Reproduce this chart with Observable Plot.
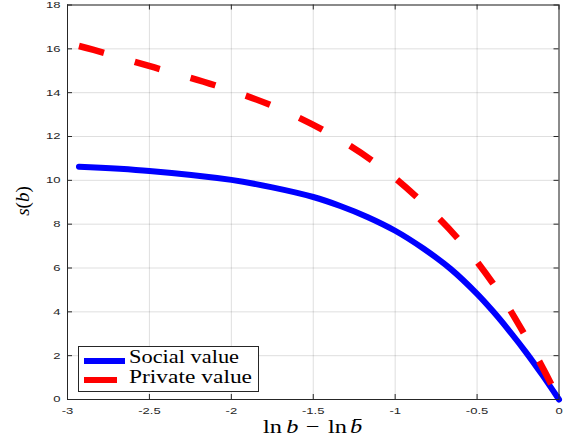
<!DOCTYPE html>
<html><head><meta charset="utf-8">
<script src="https://cdn.jsdelivr.net/npm/d3@7"></script>
<script src="https://cdn.jsdelivr.net/npm/@observablehq/plot@0.6"></script>
<style>
body{margin:0;background:#fff;}
#wrap{position:relative;width:570px;height:441px;overflow:hidden;}
.serif{font-family:"Liberation Serif","Times New Roman",serif;color:#000;line-height:1;white-space:nowrap;position:absolute;}
</style></head><body>
<div id="wrap"></div>
<script>
// ---- data ----
const socialX = [-2.93, -2.5, -2.0, -1.75, -1.5, -1.335, -1.17, -1.0, -0.83, -0.66, -0.5, -0.4, -0.3, -0.2, -0.1, 0];
const socialY = [10.62, 10.43, 10.02, 9.68, 9.24, 8.83, 8.33, 7.70, 6.90, 5.95, 4.82, 4.0, 3.1, 2.14, 1.1, 0];
const privateX = [-2.93, -2.84, -2.47, -2.1, -1.74, -1.41, -1.1, -0.84, -0.6, -0.4, -0.23, -0.08, 0];
const privateY = [16.13, 15.95, 15.15, 14.34, 13.37, 12.17, 10.68, 9.04, 7.20, 5.26, 3.22, 1.17, 0];
const xTicks = [-3, -2.5, -2, -1.5, -1, -0.5, 0];
const yTicks = [0, 2, 4, 6, 8, 10, 12, 14, 16, 18];
const seriesNames = ["Social value", "Private value"];
const seriesColors = ["#0000ff", "#ff0000"];

const social = socialX.map((x, i) => ({x, y: socialY[i]}));
const priv = privateX.map((x, i) => ({x, y: privateY[i]}));

const W = 570, H = 441, mL = 67, mR = 11.5, mT = 4.5, mB = 42;
const xDomain = [-3, 0], yDomain = [0, 18];
const tickPx = 5;
const tx = tickPx * (xDomain[1] - xDomain[0]) / (W - mL - mR);
const ty = tickPx * (yDomain[1] - yDomain[0]) / (H - mT - mB);
const axisColor = "#262626";
const fmt = d => String(d);

const plot = Plot.plot({
  width: W, height: H,
  marginLeft: mL, marginRight: mR, marginTop: mT, marginBottom: mB,
  x: {domain: xDomain},
  y: {domain: yDomain},
  style: {fontFamily: "'Liberation Sans', Arial, sans-serif", fontSize: "9px", color: axisColor, background: "#fff"},
  marks: [
    Plot.gridX(xTicks, {stroke: axisColor, strokeOpacity: 0.15}),
    Plot.gridY(yTicks, {stroke: axisColor, strokeOpacity: 0.15}),
    Plot.axisX(xTicks, {tickSize: 0, tickPadding: 8.5, label: null, tickFormat: fmt}),
    Plot.axisY(yTicks, {tickSize: 0, tickPadding: 7, label: null, tickFormat: fmt}),
    Plot.ruleX(xTicks, {x: d => d, y1: yDomain[0], y2: yDomain[0] + ty, stroke: axisColor}),
    Plot.ruleX(xTicks, {x: d => d, y1: yDomain[1] - ty, y2: yDomain[1], stroke: axisColor}),
    Plot.ruleY(yTicks, {y: d => d, x1: xDomain[0], x2: xDomain[0] + tx, stroke: axisColor}),
    Plot.ruleY(yTicks, {y: d => d, x1: xDomain[1] - tx, x2: xDomain[1], stroke: axisColor}),
    Plot.line(social, {x: "x", y: "y", stroke: seriesColors[0], strokeWidth: 6, curve: "catmull-rom"}),
    Plot.line(priv, {x: "x", y: "y", stroke: seriesColors[1], strokeWidth: 6.5, curve: "catmull-rom",
      strokeDasharray: "26,32", strokeLinecap: "butt"}),
    Plot.frame({stroke: axisColor})
  ]
});

const wrap = document.getElementById("wrap");
wrap.appendChild(plot);

// stretch tick labels horizontally like the reference (glyphs widened in place)
plot.querySelectorAll('g[aria-label$="tick label"] text').forEach(t => {
  const w = t.getComputedTextLength();
  if (w > 0) {
    t.setAttribute("textLength", (w * 1.45).toFixed(2));
    t.setAttribute("lengthAdjust", "spacingAndGlyphs");
  }
});

// x label
const xl = document.createElement("div");
xl.className = "serif";
xl.style.cssText += "left:263px;top:419.8px;line-height:0.7;font-size:19px;transform:scaleX(1.28);transform-origin:0 0;";
xl.innerHTML = 'ln<span style="margin-left:3.3px"><i>b</i></span><span style="margin-left:5.8px">\u2212</span><span style="margin-left:6.7px">ln</span><span style="margin-left:2.5px;display:inline-block;position:relative"><i>b</i><span style="position:absolute;left:2.5px;right:0.5px;top:-1px;border-top:1.2px solid #000"></span></span>';
wrap.appendChild(xl);

// y label
const yl = document.createElement("div");
yl.className = "serif";
yl.style.cssText += "left:22px;top:201px;font-size:19px;transform:translate(-50%,-50%) rotate(-90deg);";
yl.innerHTML = '<i>s</i>(<i>b</i>)';
wrap.appendChild(yl);

// legend
const lg = document.createElement("div");
lg.style.cssText = `position:absolute;left:78px;top:345.5px;width:181px;height:46px;box-sizing:border-box;border:1px solid ${axisColor};background:#fff;`;
const rows = [{top: 11, w: 41, tt: 1.3, tw: 110}, {top: 30, w: 33, tt: 21.3, tw: 123}];
wrap.appendChild(lg);
seriesNames.forEach((name, i) => {
  const s = document.createElement("div");
  s.style.cssText = `position:absolute;left:5px;top:${rows[i].top}px;width:${rows[i].w}px;height:6px;background:${seriesColors[i]};`;
  lg.appendChild(s);
  const t = document.createElement("div");
  t.className = "serif";
  t.style.cssText += `left:50px;top:${rows[i].tt}px;font-size:18.5px;transform-origin:0 0;`;
  t.textContent = name;
  lg.appendChild(t);
  const nat = t.getBoundingClientRect().width;
  t.style.transform = `scaleX(${(rows[i].tw / nat).toFixed(3)})`;
});
</script>
</body></html>
